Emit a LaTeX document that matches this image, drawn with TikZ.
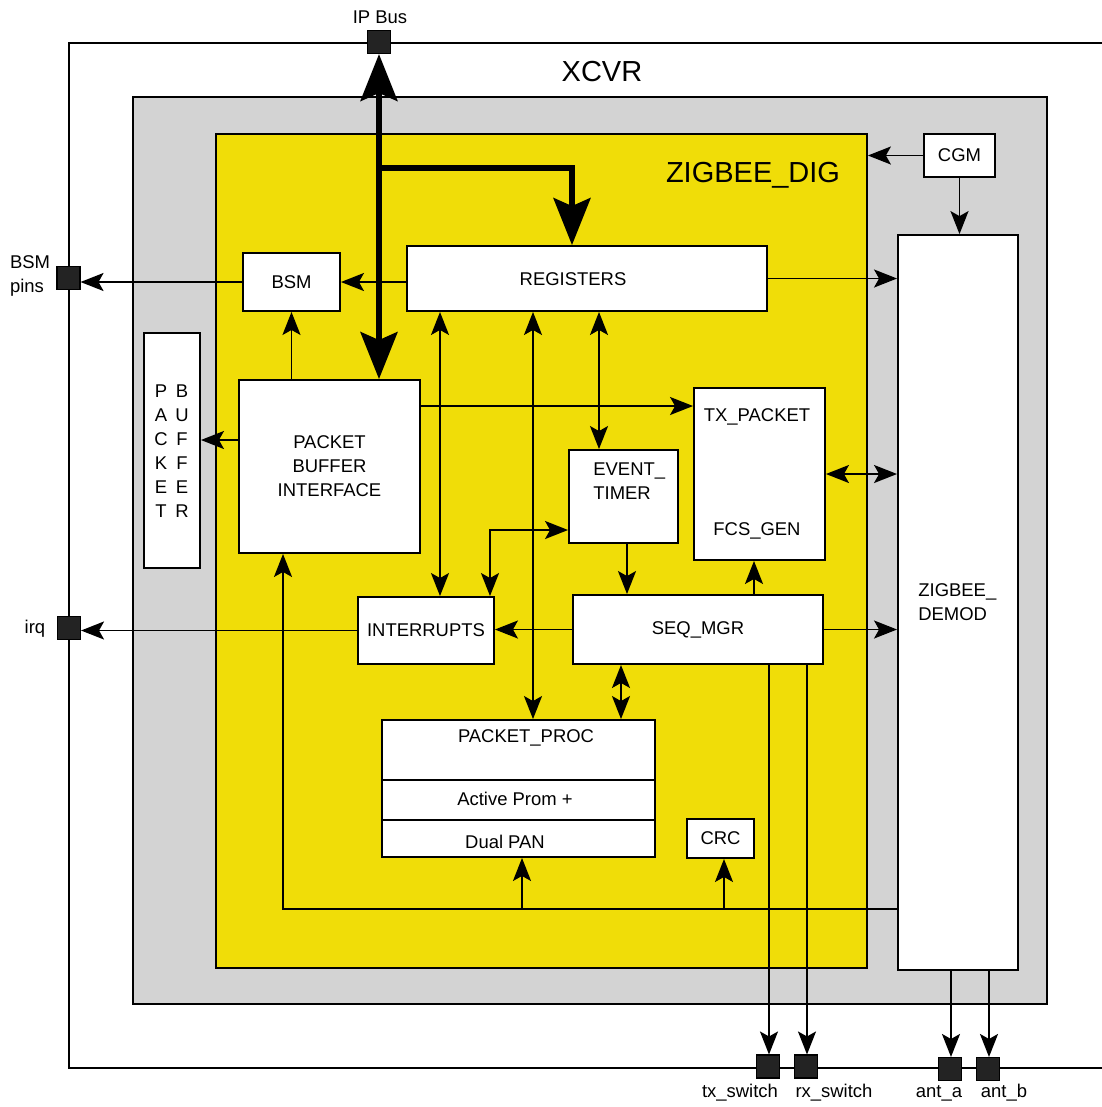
\documentclass[tikz,border=0pt]{standalone}
\usepackage{fontspec}
\setmainfont{Liberation Sans}
\usetikzlibrary{arrows.meta,positioning,calc}
\definecolor{xcvrgray}{RGB}{211,211,211}
\definecolor{digyellow}{RGB}{240,221,8}
\definecolor{padfill}{RGB}{35,35,35}
\tikzset{
  sm/.tip={Stealth[length=.46cm,width=.36cm,inset=.1cm]},
  bg/.tip={Stealth[length=.94cm,width=.74cm,inset=.16cm]},
  blk/.style={draw, fill=white, line width=1.1pt, inner sep=0pt, align=center},
  pin/.style={draw, fill=padfill, line width=.6pt, minimum size=.46cm, inner sep=0pt},
  lbl/.style={inner sep=0pt, align=center},
  wire/.style={line width=1.1pt},
  arr/.style={wire, -sm},
  darr/.style={wire, sm-sm},
  bus/.style={line width=3.1pt},
  big/.style={font=\fontsize{16.5}{20}\selectfont}
}
\begin{document}
\begin{tikzpicture}[x=0.02cm,y=-0.02cm,font=\fontsize{10.5}{13.6}\selectfont]
\useasboundingbox (0,0) rectangle (1102,1107);
% XCVR frame
\draw[wire] (1102,43) -| (69,1068) -- (1102,1068);
\node[lbl,big] (xcvrlbl) at (602,72) {XCVR};
\node[draw, fill=xcvrgray, line width=1.1pt, inner sep=0pt,
      minimum width=18.28cm, minimum height=18.14cm] (xcvr) at (590,550.5) {};
\node[draw, fill=digyellow, line width=1.1pt, inner sep=0pt,
      minimum width=13.02cm, minimum height=16.68cm] (dig) at (541.5,551) {};
\node[lbl,big] (diglbl) at (753,175) {ZIGBEE\_DIG};

% blocks
\node[blk, minimum width=7.2cm, minimum height=1.3cm] (regs) at (587,278.5) {};
\node[lbl] (regslbl) at (573,279) {REGISTERS};
\node[blk, minimum width=1.94cm, minimum height=1.16cm] (bsm) at (291.5,282) {BSM};
\node[blk, minimum width=3.62cm, minimum height=3.46cm] (pbi) at (329.5,466.5) {PACKET\\BUFFER\\INTERFACE};
\node[blk, minimum width=1.12cm, minimum height=4.7cm] (pbuf) at (172,450.5) {};
\foreach \ltr [count=\i] in {P,A,C,K,E,T}
    \node[lbl] (pk\i) at (161,367+24*\i) {\ltr};
\foreach \ltr [count=\i] in {B,U,F,F,E,R}
    \node[lbl] (bf\i) at (182,367+24*\i) {\ltr};
\node[blk, minimum width=2.62cm, minimum height=3.44cm] (txpkt) at (759.5,474) {};
\node[lbl] (txlbl) at (757,417) {TX\_PACKET};
\node[lbl] (fcslbl) at (757,531) {FCS\_GEN};
\node[blk, minimum width=2.18cm, minimum height=1.86cm] (evtmr) at (623.5,496.5) {};
\node[lbl, align=left, anchor=west] (evlbl) at (593,481) {EVENT\_\\TIMER};
\node[blk, minimum width=2.72cm, minimum height=1.34cm] (intr) at (426,630.5) {INTERRUPTS};
\node[blk, minimum width=5cm, minimum height=1.38cm] (seq) at (698,629.5) {SEQ\_MGR};
\node[blk, minimum width=5.46cm, minimum height=2.74cm] (pproc) at (518.5,788.5) {};
\draw[wire] (pproc.west |- 0,780) -- (pproc.east |- 0,780);
\draw[wire] (pproc.west |- 0,820) -- (pproc.east |- 0,820);
\node[lbl] (pplbl) at (526,738) {PACKET\_PROC};
\node[lbl] (aplbl) at (515,799) {Active Prom +};
\node[lbl] (dplbl) at (505,842) {Dual PAN};
\node[blk, minimum width=1.34cm, minimum height=.78cm] (crc) at (720.5,838.5) {CRC};
\node[blk, minimum width=1.42cm, minimum height=.86cm] (cgm) at (959.5,155.5) {CGM};
\node[blk, minimum width=2.4cm, minimum height=14.7cm] (demod) at (958,602.5) {};
\node[lbl, align=left, anchor=west] (demodlbl) at (918,602) {ZIGBEE\_\\DEMOD};

% pins
\node[pin] (ipbus) at (379,42) {};
\node[lbl] (ipbuslbl) at (380,17) {IP Bus};
\node[pin] (bsmpin) at (68.5,278) {};
\node[lbl, align=left] (bsmpinlbl) at (30,276) {BSM\\pins};
\node[pin] (irq) at (69,628) {};
\node[lbl] (irqlbl) at (35,629) {irq};
\node[pin] (txsw) at (768,1066.5) {};
\node[pin] (rxsw) at (806,1066.5) {};
\node[pin] (anta) at (950,1069) {};
\node[pin] (antb) at (988,1069) {};
\node[lbl] (txswlbl) at (740,1093) {tx\_switch};
\node[lbl] (rxswlbl) at (834,1093) {rx\_switch};
\node[lbl] (antalbl) at (939,1093) {ant\_a};
\node[lbl] (antblbl) at (1004,1093) {ant\_b};

% IP bus
\draw[bus, bg-bg] (ipbus.south) -- (ipbus.south |- pbi.north);
\coordinate (busjoin) at (379,168);
\draw[bus, -bg] (busjoin) -| (572,0 |- regs.north);

% connections
\draw[arr] (bsm.east -| regs.west) -- (bsm.east);
\draw[arr] (bsm.west) -- (bsm.west -| bsmpin.east);
\draw[arr] (regs.east) -- (regs.east -| demod.west);
\draw[arr] (cgm.west) -- (cgm.west -| dig.east);
\draw[arr] (cgm.south) -- (cgm.south |- demod.north);
\draw[arr] (bsm.south |- pbi.north) -- (bsm.south);
\draw[arr] (pbi.west |- 0,440) -- (pbuf.east |- 0,440);
\draw[arr] (pbi.east |- 0,406) -- (txpkt.west |- 0,406);
\draw[darr] (txpkt.east) -- (txpkt.east -| demod.west);
\draw[darr] (599,0 |- regs.south) -- (599,0 |- evtmr.north);
\draw[darr] (440,0 |- regs.south) -- (440,0 |- intr.north);
\draw[darr] (533,0 |- regs.south) -- (533,0 |- pproc.north);
\draw[darr] (490,0 |- intr.north) |- (evtmr.west |- 0,530);
\draw[arr] (627,0 |- evtmr.south) -- (627,0 |- seq.north);
\draw[arr] (seq.west) -- (seq.west -| intr.east);
\draw[arr] (intr.west) -- (intr.west -| irq.east);
\draw[arr] (754,0 |- seq.north) -- (754,0 |- txpkt.south);
\draw[arr] (seq.east) -- (seq.east -| demod.west);
\draw[darr] (621,0 |- seq.south) -- (621,0 |- pproc.north);
\draw[arr] (769,0 |- seq.south) -- (769,0 |- txsw.north);
\draw[arr] (807,0 |- seq.south) -- (807,0 |- rxsw.north);
\draw[arr] (951,0 |- demod.south) -- (951,0 |- anta.north);
\draw[arr] (989,0 |- demod.south) -- (989,0 |- antb.north);

% return path from demod
\coordinate (tapp) at (522,909);
\coordinate (tapc) at (724,909);
\draw[arr] (demod.west |- 0,909) -| (283,0 |- pbi.south);
\draw[arr] (tapp) -- (tapp |- pproc.south);
\draw[arr] (tapc) -- (tapc |- crc.south);
\end{tikzpicture}
\end{document}
